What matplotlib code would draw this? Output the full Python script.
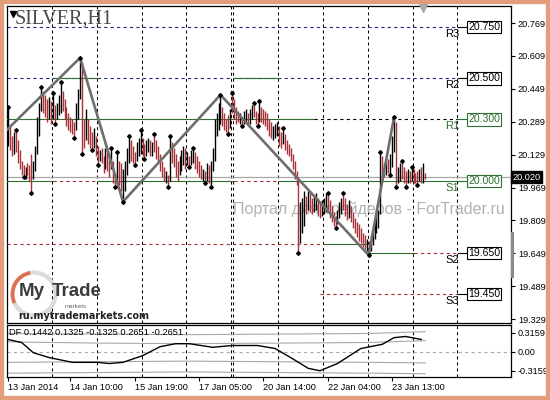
import numpy as np
import matplotlib
matplotlib.use("Agg")
import matplotlib.pyplot as plt
from matplotlib.patches import Rectangle, Circle, Arc
from matplotlib.lines import Line2D

plt.rcParams['font.family'] = ['Liberation Sans', 'DejaVu Sans']

# H1 bars, 13 Jan 2014 .. 24 Jan 2014 (one row per trading day)
highs = [
    20.36, 20.27, 20.22, 20.24, 20.25, 20.20, 20.15, 20.10, 20.08, 20.07, 20.09, 20.08, 20.13, 20.10, 20.17, 20.31, 20.38, 20.46, 20.44, 20.42, 20.40, 20.41, 20.39,
    20.43, 20.37, 20.38, 20.42, 20.48, 20.44, 20.40, 20.36, 20.33, 20.31, 20.30, 20.29, 20.38, 20.45, 20.60, 20.58, 20.30, 20.35, 20.30, 20.27, 20.24, 20.26, 20.22,
    20.17, 20.15, 20.16, 20.12, 20.16, 20.15, 20.13, 20.16, 20.10, 20.04, 20.14, 20.10, 20.09, 20.06, 20.10, 20.16, 20.22, 20.20, 20.17, 20.14, 20.19, 20.21, 20.25,
    20.21, 20.18, 20.20, 20.21, 20.20, 20.19, 20.23, 20.20, 20.17, 20.13, 20.10, 20.07, 20.05, 20.03, 20.22, 20.19, 20.16, 20.13, 20.10, 20.12, 20.15, 20.17, 20.16,
    20.14, 20.12, 20.15, 20.16, 20.14, 20.12, 20.10, 20.08, 20.06, 20.05, 20.09, 20.08, 20.10, 20.16, 20.30, 20.33, 20.38, 20.42, 20.36, 20.33, 20.30, 20.32, 20.35,
    20.43,
    20.40, 20.36, 20.34, 20.33, 20.31, 20.34, 20.35, 20.33, 20.35, 20.37, 20.38, 20.34, 20.33, 20.39, 20.36, 20.35, 20.34, 20.33, 20.30, 20.29, 20.27, 20.28, 20.29,
    20.27, 20.24, 20.26, 20.23, 20.20, 20.18, 20.16, 20.13, 20.10, 20.05, 20.00, 19.90, 19.92, 19.95, 19.93, 19.95, 19.94, 19.92, 19.93, 19.94, 19.92, 19.90, 19.91,
    19.92, 19.94, 19.94, 19.91, 19.88, 19.85, 19.83, 19.86, 19.90, 19.92, 19.94, 19.92, 19.89, 19.91, 19.88, 19.85, 19.82, 19.80, 19.79, 19.77, 19.75, 19.74, 19.72,
    19.71, 19.74, 19.77, 19.80, 19.83, 19.86, 20.14, 20.12, 20.09, 20.10, 20.11, 20.13, 20.22, 20.31, 20.29, 20.07, 20.09, 20.10, 20.07, 20.05, 20.06, 20.05, 20.07,
    20.06, 20.04, 20.05, 20.06, 20.07, 20.09, 20.04,
]
lows = [
    20.17, 20.15, 20.12, 20.13, 20.14, 20.09, 20.06, 20.03, 20.02, 20.01, 20.03, 20.00, 19.94, 20.01, 20.05, 20.13, 20.22, 20.34, 20.33, 20.31, 20.29, 20.30, 20.28,
    20.30, 20.28, 20.30, 20.32, 20.33, 20.34, 20.30, 20.27, 20.25, 20.24, 20.23, 20.21, 20.25, 20.30, 20.40, 20.13, 20.16, 20.20, 20.18, 20.16, 20.15, 20.16, 20.12,
    20.08, 20.10, 20.09, 20.04, 20.06, 20.05, 20.02, 20.06, 19.99, 19.97, 19.99, 19.98, 19.95, 19.90, 19.95, 20.03, 20.09, 20.10, 20.09, 20.08, 20.10, 20.12, 20.13,
    20.12, 20.11, 20.12, 20.14, 20.12, 20.12, 20.14, 20.11, 20.09, 20.05, 20.02, 20.00, 19.99, 19.97, 20.00, 20.09, 20.07, 20.02, 20.00, 20.03, 20.05, 20.08, 20.06,
    20.08, 20.07, 20.08, 20.09, 20.06, 20.04, 20.02, 20.01, 20.00, 19.99, 20.00, 19.99, 19.97, 20.05, 20.10, 20.22, 20.25, 20.28, 20.27, 20.25, 20.24, 20.23, 20.26,
    20.33,
    20.30, 20.28, 20.29, 20.28, 20.27, 20.28, 20.29, 20.28, 20.28, 20.30, 20.31, 20.28, 20.27, 20.29, 20.29, 20.28, 20.27, 20.25, 20.22, 20.21, 20.20, 20.21, 20.22,
    20.17, 20.16, 20.18, 20.15, 20.13, 20.12, 20.10, 20.06, 20.01, 19.98, 19.65, 19.70, 19.75, 19.78, 19.84, 19.86, 19.85, 19.84, 19.85, 19.86, 19.83, 19.82, 19.83,
    19.84, 19.85, 19.86, 19.82, 19.80, 19.78, 19.77, 19.79, 19.82, 19.84, 19.86, 19.83, 19.81, 19.82, 19.80, 19.77, 19.75, 19.73, 19.71, 19.70, 19.68, 19.67, 19.66,
    19.64, 19.66, 19.69, 19.72, 19.75, 19.77, 19.84, 20.00, 20.02, 20.03, 20.04, 20.03, 20.07, 20.14, 19.97, 19.99, 20.00, 20.01, 19.99, 19.97, 19.99, 19.99, 20.00,
    19.99, 19.99, 19.98, 20.00, 19.99, 19.99, 20.01,
]
# b = bull bar, r = bear bar
bar_dir = ("brrbrrrrrbrrrbbbbbrrrbr" "brbbbrrrrrrrbbbrrbrrrbr" "rbrrbrrbrrbrrbbbbrrrbbb"
           "rrbbrbrrrrrrbrbrrrrbbbr" "brbbrrrrbrbrbbbbbbrrrrb" "r"
           "rrrbrbbrbbrrrbrrrrrrbbb" "rrbrrrrrrrrbbbrbrrbbrrb" "bbrrrrrbbbrrrbrrrrrrrrb"
           "rbbbbbbrrbrbbbrbbrrrbrb" "rrrbrbr")

frac_up = [0, 4, 17, 23, 27, 37, 53, 56, 62, 68, 75, 83, 95, 109, 115, 126, 129, 141,
           164, 172, 191, 198, 202, 207]
frac_dn = [8, 12, 24, 34, 38, 43, 46, 55, 59, 65, 70, 82, 93, 101, 104, 113, 120, 128,
           149, 168, 185, 196, 199, 204, 210]

zz_idx = [-8, 37, 59, 109, 185, 198]
zz_price = [20.18, 20.60, 19.90, 20.42, 19.64, 20.31]

day_starts = [23, 46, 69, 92, 115, 116, 139, 162, 185, 208, 231]
time_pos = [0, 32, 65, 98, 131, 164, 197]
time_labels = ['13 Jan 2014', '14 Jan 10:00', '15 Jan 19:00', '17 Jan 05:00',
               '20 Jan 14:00', '22 Jan 04:00', '23 Jan 13:00']
price_ticks = [20.769, 20.609, 20.449, 20.289, 20.129, 19.969, 19.809, 19.649, 19.489, 19.329]
last_price = 20.020

pivot_names = ['R3', 'R2', 'R1', 'S1', 'S2', 'S3']
pivot_values = [20.750, 20.500, 20.300, 20.000, 19.650, 19.450]

# daily pivot segments: level, from bar, to bar, kind
pivot_lines = [
    (20.75, -0.5, 231, 'blue'), (20.50, -0.5, 231, 'blue'),
    (20.50, 23, 46, 'green'), (20.50, 116, 139, 'green'),
    (20.30, -0.5, 157, 'green'), (20.30, 157, 231, 'black'),
    (20.00, -0.5, 23, 'green'), (20.00, 23, 46, 'red'), (20.00, 46, 116, 'green'),
    (20.00, 116, 139, 'red'), (20.00, 139, 231, 'green'),
    (19.694, -0.5, 162, 'red'), (19.694, 162, 185, 'green'),
    (19.65, 185, 208, 'green'), (19.65, 208, 231, 'red'),
    (19.45, 160, 231, 'red'),
]

# DF oscillator
df_idx = [0, 7, 13, 21, 33, 46, 52, 59, 69, 78, 86, 93, 105, 115, 128, 137, 146, 154,
          160, 169, 181, 192, 198, 204, 212]
df_val = [0.20, 0.15, -0.02, -0.10, -0.18, -0.18, -0.20, -0.18, -0.07, 0.08, 0.13, 0.13,
          0.07, 0.10, 0.10, 0.05, -0.12, -0.28, -0.32, -0.20, 0.05, 0.12, 0.23, 0.25, 0.20]
band_idx = [0, 46, 92, 139, 185, 214]
band_up2 = [0.30, 0.29, 0.28, 0.29, 0.30, 0.33]
band_up1 = [0.16, 0.14, 0.13, 0.14, 0.15, 0.18]
band_dn1 = [-0.18, -0.17, -0.16, -0.17, -0.18, -0.19]
band_dn2 = [-0.36, -0.35, -0.34, -0.35, -0.36, -0.37]

W, H = 550, 400
GREEN = '#2F6E2F'
RED = '#A93036'
NAVY = '#23238C'
DASH = (0, (2.9, 2.9))


def fx(x):
    return x / W


def fy(y):
    return 1 - y / H


fig = plt.figure(figsize=(5.5, 4), dpi=100)
ax = fig.add_axes([fx(7), fy(323), 504 / W, 317 / H])
axi = fig.add_axes([fx(7), fy(377), 504 / W, 52 / H])

idx = np.arange(len(highs))
cols = ['black' if c == 'b' else RED for c in bar_dir]
ax.vlines(idx, lows, highs, colors=cols, lw=1.0, zorder=4)

hi = np.array(highs)
lo = np.array(lows)
ax.plot(frac_up, hi[frac_up], 'D', color='black', ms=1.9, zorder=6)
ax.plot(frac_dn, lo[frac_dn], 'D', color='black', ms=1.9, zorder=6)

ax.plot(zz_idx, zz_price, color='#6E6E6E', lw=1.9, zorder=5)

# separators
for d in day_starts:
    for a in (ax, axi):
        a.axvline(d - 0.5, color='black', lw=0.75, ls=DASH, zorder=1)

kind_style = {'blue': (NAVY, DASH), 'red': (RED, DASH), 'green': (GREEN, '-'),
              'black': ('black', DASH)}
for lvl, x0, x1, kind in pivot_lines:
    c, ls = kind_style[kind]
    ax.plot([x0, x1], [lvl, lvl], color=c, ls=ls, lw=0.8,
            zorder=2 if kind == 'blue' else 3)

ax.axhline(last_price, color='#A8A8A8', lw=0.9, zorder=2)

for name, val in zip(pivot_names, pivot_values):
    c = GREEN if name in ('R1', 'S1') else 'black'
    ax.plot([231, 236], [val, val], color=c, lw=0.8, zorder=3)
    ax.text(236, val, f'{val:.3f}', ha='left', va='center', fontsize=7.6, color=c,
            bbox=dict(boxstyle='square,pad=0.12', fc='white', ec=c, lw=0.8), zorder=7)
    ax.annotate(name, (231.5, val), xytext=(0, -1.2), textcoords='offset points',
                ha='right', va='top', fontsize=8, color=c, zorder=7)

ax.set_xlim(-0.5, 258)
ax.set_ylim(19.31, 20.852)
ax.set_xticks([])
ax.yaxis.tick_right()
ax.set_yticks(price_ticks)
ax.set_yticklabels([f'{p:.3f}' for p in price_ticks])
ax.tick_params(axis='y', length=3, width=0.8, pad=2, labelsize=6.6)

ax.text(1.002, last_price, f'{last_price:.3f}', transform=ax.get_yaxis_transform(),
        ha='left', va='center', fontsize=6.6, color='white',
        bbox=dict(boxstyle='square,pad=0.15', fc='black', ec='black'), zorder=8, clip_on=False)

# texts on the chart
ax.text(fx(15), fy(19), 'SILVER,H1', transform=fig.transFigure, ha='left', va='center',
        fontsize=14.5, family='Liberation Serif', color='#4A4A4A', zorder=8)
ax.text(fx(233), fy(209), 'Портал для трейдеров - ForTrader.ru', transform=fig.transFigure,
        ha='left', va='center', fontsize=11.5, color='#B2B2B2', zorder=1.5)

fig.add_artist(Line2D([fx(13)], [fy(14)], marker='v', color='black', ms=4))
fig.add_artist(Line2D([fx(423)], [fy(8)], marker='v', color='#A8A8A8', ms=6))

# logo
fig.add_artist(Circle((34 / 100, (H - 294) / 100), 0.215, transform=fig.dpi_scale_trans,
                      fill=False, ec='#DADADA', lw=3))
fig.add_artist(Arc((34 / 100, (H - 294) / 100), 0.43, 0.43, theta1=100, theta2=205,
                   transform=fig.dpi_scale_trans, ec='#E27050', lw=2.6))
fig.text(fx(19), fy(292), 'My', ha='left', va='center', fontsize=13.5, weight='bold',
         color='#3C3C3C')
fig.text(fx(52), fy(292), 'Trade', ha='left', va='center', fontsize=13.5, weight='bold',
         color='#3C3C3C')
fig.text(fx(65), fy(306), 'markets', ha='left', va='center', fontsize=4.5, color='#666666')
fig.text(fx(18), fy(316), 'ru.mytrademarkets.com', ha='left', va='center', fontsize=6.9,
         weight='bold', family='DejaVu Sans', color='#222222')

# indicator
axi.plot(band_idx, band_up2, color='#A8A8A8', lw=0.8)
axi.plot(band_idx, band_up1, color='#A8A8A8', lw=0.8)
axi.plot(band_idx, band_dn1, color='#A8A8A8', lw=0.8)
axi.plot(band_idx, band_dn2, color='#A8A8A8', lw=0.8)
axi.axhline(0, color='#A8A8A8', lw=0.8, ls=DASH)
axi.plot(df_idx, df_val, color='black', lw=1.0)
axi.text(0.003, 0.86, 'DF 0.1442 0.1325 -0.1325 0.2651 -0.2651', transform=axi.transAxes,
         ha='left', va='center', fontsize=6.7)
axi.set_xlim(-0.5, 258)
axi.set_ylim(-0.424, 0.441)
axi.yaxis.tick_right()
axi.set_yticks([0.3159, 0, -0.3159])
axi.set_yticklabels(['0.3159', '0.00', '-0.3159'])
axi.set_xticks(time_pos)
axi.set_xticklabels(time_labels, ha='left')
axi.tick_params(axis='both', length=3, width=0.8, pad=1.5, labelsize=6.6)

for a in (ax, axi):
    for s in a.spines.values():
        s.set_linewidth(0.9)

# scroll mark on the price scale and outer frame
fig.patches.append(Rectangle((fx(511), fy(278)), 3 / W, 46 / H, transform=fig.transFigure,
                             fc='#8A8A8A', ec='none', zorder=5))
fig.patches.append(Rectangle((0, 0), 1, 1, transform=fig.transFigure, fill=False,
                             ec='#E39C7C', lw=6))

fig.savefig('out.png', dpi=100)
